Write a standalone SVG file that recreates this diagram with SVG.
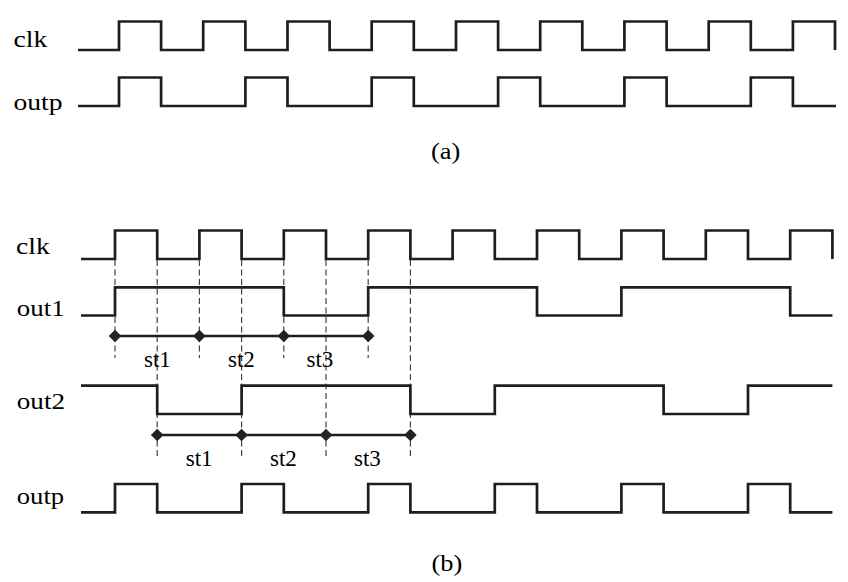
<svg xmlns="http://www.w3.org/2000/svg" xmlns:xlink="http://www.w3.org/1999/xlink" width="848" height="582" viewBox="0 0 848 582">
<style>
.wave{fill:none;stroke:#1e1e1e;stroke-width:2.7;stroke-linejoin:miter;stroke-linecap:butt}
.dash{fill:none;stroke:#444;stroke-width:1.2;stroke-dasharray:6 3.5}
.bar{fill:none;stroke:#1e1e1e;stroke-width:2.6}
.lbl{font-family:"Liberation Serif","Times New Roman",serif;font-size:23px;fill:#000}
.dia{fill:#222}
</style>
<defs>
<path id="dia" class="dia" d="M-6.3,0 L0,-6.3 L6.3,0 L0,6.3 Z"/>
</defs>
<rect width="848" height="582" fill="#fff"/>

<g id="a-clk">
<text class="lbl" x="13.5" y="46.7" transform="translate(13.5,0) scale(1.2,1) translate(-13.5,0)">clk</text>
<path class="wave" d="M78,50 H119 V21.5 H161.1 V50 H203.2 V21.5 H245.4 V50 H287.5 V21.5 H329.6 V50 H371.7 V21.5 H413.8 V50 H456 V21.5 H498.1 V50 H540.2 V21.5 H582.3 V50 H624.4 V21.5 H666.6 V50 H708.7 V21.5 H750.8 V50 H792.9 V21.5 H835 V50"/>
</g>
<g id="a-outp">
<text class="lbl" x="13.5" y="110" transform="translate(13.5,0) scale(1.2,1) translate(-13.5,0)">outp</text>
<path class="wave" d="M78,106 H119 V77.5 H161.1 V106 H245.4 V77.5 H287.5 V106 H371.7 V77.5 H413.8 V106 H498.1 V77.5 H540.2 V106 H624.4 V77.5 H666.6 V106 H750.8 V77.5 H792.9 V106 H836"/>
</g>
<text id="cap-a" class="lbl" x="431" y="159" transform="translate(431,0) scale(1.15,1) translate(-431,0)">(a)</text>

<g id="connectors">
<path class="dash" d="M115,260 V358 M199.4,260 V358 M283.8,260 V358 M368.2,260 V358"/>
<path class="dash" d="M157.2,260 V457 M241.6,260 V457 M326,260 V457 M410.4,260 V457"/>
</g>

<g id="b-clk">
<text class="lbl" x="16" y="254" transform="translate(16,0) scale(1.2,1) translate(-16,0)">clk</text>
<path class="wave" d="M81,259 H115 V230.5 H157.2 V259 H199.4 V230.5 H241.6 V259 H283.8 V230.5 H326 V259 H368.2 V230.5 H410.4 V259 H452.6 V230.5 H494.8 V259 H537 V230.5 H579.2 V259 H621.4 V230.5 H663.6 V259 H705.8 V230.5 H748 V259 H790.2 V230.5 H832.4 V259"/>
</g>
<g id="b-out1">
<text class="lbl" x="16.8" y="316" transform="translate(16.8,0) scale(1.17,1) translate(-16.8,0)">out1</text>
<path class="wave" d="M81,315.5 H115 V287.3 H283.8 V315.5 H368.2 V287.3 H537 V315.5 H621.4 V287.3 H790.2 V315.5 H832.4"/>
</g>
<g id="b-out1-states">
<path class="bar" d="M115,336 H368.2"/>
<use xlink:href="#dia" x="115" y="336"/>
<use xlink:href="#dia" x="199.4" y="336"/>
<use xlink:href="#dia" x="283.8" y="336"/>
<use xlink:href="#dia" x="368.2" y="336"/>
<text class="lbl" x="144" y="366.7">st1</text>
<text class="lbl" x="228" y="366.7">st2</text>
<text class="lbl" x="306.5" y="366.7">st3</text>
</g>
<g id="b-out2">
<text class="lbl" x="16.8" y="409.3" transform="translate(16.8,0) scale(1.18,1) translate(-16.8,0)">out2</text>
<path class="wave" d="M81,385.7 H157.2 V414 H241.6 V385.7 H410.4 V414 H494.8 V385.7 H663.6 V414 H748 V385.7 H832.4"/>
</g>
<g id="b-out2-states">
<path class="bar" d="M157.2,435 H410.4"/>
<use xlink:href="#dia" x="157.2" y="435"/>
<use xlink:href="#dia" x="241.6" y="435"/>
<use xlink:href="#dia" x="326" y="435"/>
<use xlink:href="#dia" x="410.4" y="435"/>
<text class="lbl" x="185.7" y="466">st1</text>
<text class="lbl" x="270" y="466">st2</text>
<text class="lbl" x="354" y="466">st3</text>
</g>
<g id="b-outp">
<text class="lbl" x="16.8" y="504" transform="translate(16.8,0) scale(1.16,1) translate(-16.8,0)">outp</text>
<path class="wave" d="M81,512.3 H115 V484 H157.2 V512.3 H241.6 V484 H283.8 V512.3 H368.2 V484 H410.4 V512.3 H494.8 V484 H537 V512.3 H621.4 V484 H663.6 V512.3 H748 V484 H790.2 V512.3 H832.4"/>
</g>
<text id="cap-b" class="lbl" x="431.5" y="571.5" transform="translate(431.5,0) scale(1.15,1) translate(-431.5,0)">(b)</text>
</svg>
